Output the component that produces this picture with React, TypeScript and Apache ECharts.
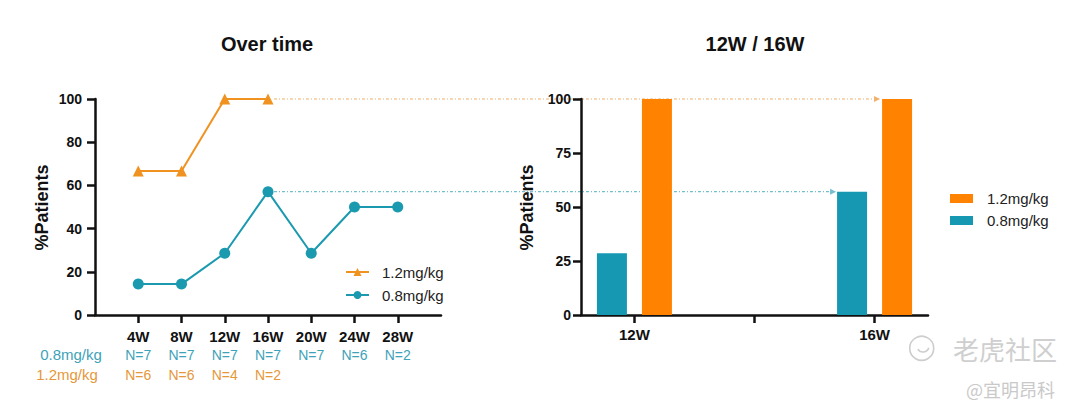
import React, { useEffect, useRef } from "react";
import * as echarts from "echarts";

// ---------- data ----------
const weeks = ["4W", "8W", "12W", "16W", "20W", "24W", "28W"];
const lowPct = [14.3, 14.3, 28.6, 57.1, 28.6, 50, 50]; // 0.8mg/kg
const highPct = [66.7, 66.7, 100, 100]; // 1.2mg/kg (4W..16W)
const nLow = [7, 7, 7, 7, 7, 6, 2];
const nHigh = [6, 6, 4, 2];
const barCats = ["12W", "16W"];
const barLow = [28.6, 57.1];
const barHigh = [100, 100];
const doseLow = "0.8mg/kg";
const doseHigh = "1.2mg/kg";
const leftTitle = "Over time";
const rightTitle = "12W / 16W";
const yName = "%Patients";

// ---------- style ----------
const FONT = "'Liberation Sans', Arial, Helvetica, sans-serif";
const CJK = "'Noto Sans CJK SC', sans-serif";
const ORANGE_LINE = "#f0921f";
const TEAL_LINE = "#1b9aaf";
const ORANGE_BAR = "#ff8300";
const TEAL_BAR = "#1698b3";
const TEAL_TEXT = "#3ea2b8";
const ORANGE_TEXT = "#e5973a";
const INK = "#111111";
const BAR_W = 30;
const BAR_GAP = 15;

export default function App() {
  const ref = useRef<HTMLDivElement>(null);

  useEffect(() => {
    document.body.style.margin = "0";
    const chart = echarts.init(ref.current!, null, { renderer: "svg" });

    const xData = ["", ...weeks, ""];
    const lowData = [null, ...lowPct, null];
    const highData: (number | null)[] = [null, ...highPct];
    while (highData.length < xData.length) highData.push(null);

    const nBar = barCats.length;
    const pad = 0.445;
    const barX = (i: number) => 2 * i + 1;
    const tickVals = Array.from({ length: 2 * nBar - 1 }, (_, i) => i + 1);
    const labelVals = barCats.map((_, i) => barX(i));

    const axisLine = { show: true, lineStyle: { color: INK, width: 2.5 } };
    const tickStyle = { color: INK, width: 2.5 };
    const yLabel = {
      fontSize: 14,
      fontWeight: "bold",
      color: INK,
      fontFamily: FONT,
    };

    chart.setOption({
      animation: false,
      grid: [
        { left: 95, width: 346, top: 99, height: 216, outerBoundsMode: "none", containLabel: false },
        { left: 581, width: 347, top: 99, height: 216, outerBoundsMode: "none", containLabel: false },
      ],
      xAxis: [
        {
          type: "category",
          gridIndex: 0,
          data: xData,
          boundaryGap: false,
          axisLine,
          axisTick: {
            show: true,
            length: 8,
            lineStyle: tickStyle,
            interval: (i: number) => i > 0 && i < xData.length - 1,
          },
          splitLine: { show: false },
          axisLabel: {
            interval: 0,
            margin: 12,
            formatter: (v: string, i: number) => {
              if (!v) return "";
              const k = i - 1;
              let s = `{w|${v}}\n{a|N=${nLow[k]}}`;
              if (nHigh[k] !== undefined) s += `\n{b|N=${nHigh[k]}}`;
              return s;
            },
            rich: {
              w: { fontSize: 15, fontWeight: "bold", color: INK, fontFamily: FONT, lineHeight: 18 },
              a: { fontSize: 14, color: TEAL_TEXT, fontFamily: FONT, lineHeight: 20 },
              b: { fontSize: 14, color: ORANGE_TEXT, fontFamily: FONT, lineHeight: 20 },
            },
          },
        },
        {
          type: "value",
          gridIndex: 1,
          min: 1 - pad,
          max: 2 * nBar - 1 + pad,
          axisLine,
          axisTick: { show: true, length: 8, lineStyle: tickStyle, customValues: tickVals },
          splitLine: { show: false },
          axisLabel: {
            customValues: labelVals,
            margin: 12,
            fontSize: 15,
            fontWeight: "bold",
            color: INK,
            fontFamily: FONT,
            formatter: (v: number) => barCats[(v - 1) / 2] ?? "",
          },
        },
      ],
      yAxis: [
        {
          type: "value",
          gridIndex: 0,
          min: 0,
          max: 100,
          interval: 20,
          axisLine,
          axisTick: { show: true, length: 8, lineStyle: tickStyle },
          splitLine: { show: false },
          axisLabel: { ...yLabel, margin: 13 },
        },
        {
          type: "value",
          gridIndex: 1,
          min: 0,
          max: 100,
          interval: 25,
          axisLine,
          axisTick: { show: true, length: 8, lineStyle: tickStyle },
          splitLine: { show: false },
          axisLabel: { ...yLabel, margin: 10 },
        },
      ],
      legend: [
        {
          data: [doseHigh, doseLow],
          left: 345,
          top: 264.5,
          orient: "vertical",
          padding: 0,
          itemWidth: 23,
          itemHeight: 10,
          itemGap: 8,
          selectedMode: false,
          textStyle: { fontSize: 15, lineHeight: 15, color: "#222", fontFamily: FONT, padding: [0, 0, 0, 8] },
        },
        {
          data: ["bar:" + doseHigh, "bar:" + doseLow],
          left: 950,
          top: 191,
          orient: "vertical",
          padding: 0,
          icon: "rect",
          itemWidth: 23,
          itemHeight: 9,
          itemGap: 7,
          selectedMode: false,
          formatter: (n: string) => n.replace("bar:", ""),
          textStyle: { fontSize: 15, lineHeight: 15, color: "#222", fontFamily: FONT, padding: [0, 0, 0, 9] },
        },
      ],
      series: [
        {
          type: "line",
          name: doseHigh,
          xAxisIndex: 0,
          yAxisIndex: 0,
          data: highData,
          symbol: "triangle",
          symbolSize: 11,
          lineStyle: { color: ORANGE_LINE, width: 2 },
          itemStyle: { color: ORANGE_LINE },
        },
        {
          type: "line",
          name: doseLow,
          xAxisIndex: 0,
          yAxisIndex: 0,
          data: lowData,
          symbol: "circle",
          symbolSize: 11,
          lineStyle: { color: TEAL_LINE, width: 2 },
          itemStyle: { color: TEAL_LINE },
        },
        {
          type: "bar",
          name: "bar:" + doseLow,
          xAxisIndex: 1,
          yAxisIndex: 1,
          data: barCats.map((_, i) => [barX(i), barLow[i]]),
          barWidth: BAR_W,
          barGap: "50%",
          itemStyle: { color: TEAL_BAR },
        },
        {
          type: "bar",
          name: "bar:" + doseHigh,
          xAxisIndex: 1,
          yAxisIndex: 1,
          data: barCats.map((_, i) => [barX(i), barHigh[i]]),
          barWidth: BAR_W,
          barGap: "50%",
          itemStyle: { color: ORANGE_BAR },
        },
      ],
    });

    // connectors from 16W points to 16W bars
    const lastHigh = highPct.length - 1;
    const idx16 = weeks.indexOf("16W") + 1;
    const pHigh = chart.convertToPixel({ xAxisIndex: 0, yAxisIndex: 0 }, [idx16, highPct[lastHigh]]) as number[];
    const pLow = chart.convertToPixel({ xAxisIndex: 0, yAxisIndex: 0 }, [idx16, lowPct[idx16 - 1]]) as number[];
    const b16 = barCats.indexOf("16W");
    const c16 = chart.convertToPixel({ xAxisIndex: 1, yAxisIndex: 1 }, [barX(b16), 0]) as number[];
    const orangeLeft = c16[0] + BAR_GAP / 2;
    const tealLeft = c16[0] - BAR_GAP / 2 - BAR_W;

    const connector = (x1: number, x2: number, y: number, color: string, id: string) => [
      {
        type: "line",
        id: id + "-l",
        shape: { x1, y1: y, x2: x2 - 4, y2: y },
        style: { stroke: color, lineWidth: 1.2, lineDash: [3, 2, 1, 2] },
        silent: true,
      },
      {
        type: "polygon",
        id: id + "-a",
        shape: { points: [[x2 - 6, y - 3], [x2, y], [x2 - 6, y + 3]] },
        style: { fill: color },
        silent: true,
      },
    ];

    const txt = (
      id: string,
      x: number,
      y: number,
      text: string,
      size: number,
      color: string,
      opts: any = {}
    ) => ({
      type: "text",
      id,
      x,
      y,
      rotation: opts.rotation || 0,
      silent: true,
      style: {
        text,
        fontSize: size,
        fontWeight: opts.bold ? "bold" : "normal",
        fontFamily: opts.family || FONT,
        fill: color,
        align: opts.align || "center",
        verticalAlign: "middle",
        textAlign: opts.align || "center",
        textVerticalAlign: "middle",
      },
    });

    chart.setOption({
      graphic: [
        txt("t1", 267, 43.5, leftTitle, 20, INK, { bold: true }),
        txt("t2", 755, 43.5, rightTitle, 20, INK, { bold: true }),
        txt("y1", 41.7, 207.5, yName, 18, INK, { bold: true, rotation: Math.PI / 2 }),
        txt("y2", 527, 207.5, yName, 18, INK, { bold: true, rotation: Math.PI / 2 }),
        txt("r1", 71, 354.5, doseLow, 15, TEAL_TEXT),
        txt("r2", 67, 374.5, doseHigh, 15, ORANGE_TEXT),
        ...connector(pHigh[0] + 6, orangeLeft - 2, pHigh[1], "#f2b06a", "ch"),
        ...connector(pLow[0] + 6, tealLeft - 1, pLow[1], "#74bfcf", "cl"),
        {
          type: "circle",
          id: "wm-c",
          shape: { cx: 921.7, cy: 348.3, r: 12 },
          style: { fill: "none", stroke: "#cdcdcd", lineWidth: 1.6 },
          silent: true,
        },
        {
          type: "arc",
          id: "wm-a",
          shape: { cx: 923, cy: 346, r: 6, startAngle: 0.3, endAngle: 2.6 },
          style: { fill: "none", stroke: "#cdcdcd", lineWidth: 1.6 },
          silent: true,
        },
        txt("wm1", 953, 348.5, "老虎社区", 26, "#cfcfcf", { align: "left", family: CJK }),
        txt("wm2", 966, 388.5, "@宜明昂科", 18, "#c9c9c9", { align: "left", family: CJK }),
      ],
    });

    return () => chart.dispose();
  }, []);

  return <div ref={ref} style={{ width: 1080, height: 414 }} />;
}
